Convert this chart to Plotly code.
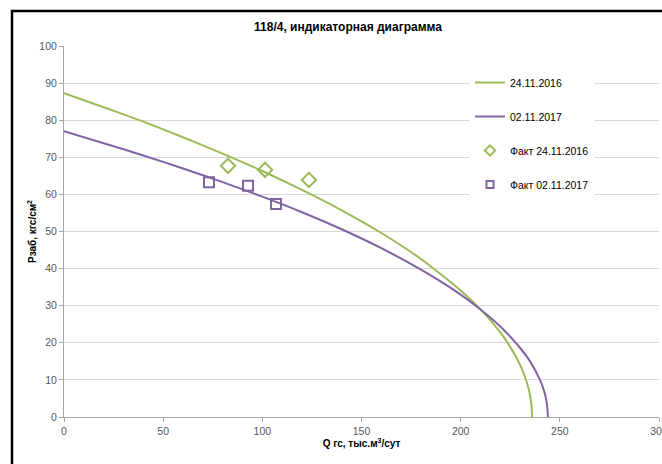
import plotly.graph_objects as go

# Indicator curves
q_2016 = [0, 20, 40, 60, 80, 100, 120, 140, 160, 180, 200, 210, 220, 225, 230, 233, 235, 235.8, 236]
p_2016 = [87.3, 83.5, 79.6, 75.4, 71.0, 66.3, 61.2, 55.7, 49.6, 42.6, 34.1, 29.0, 22.8, 18.9, 14.0, 9.9, 5.8, 2.5, 0]

q_2017 = [0, 20, 40, 60, 80, 100, 120, 140, 160, 180, 200, 210, 220, 230, 235, 240, 242, 243, 243.7, 244]
p_2017 = [77.0, 73.8, 70.5, 67.0, 63.3, 59.4, 55.2, 50.6, 45.5, 39.7, 33.0, 29.0, 24.4, 18.6, 15.0, 10.0, 7.1, 5.1, 2.5, 0]

# Measured points
fact_q_2016 = [82.7, 101.4, 123.5]
fact_p_2016 = [67.7, 66.6, 63.9]
fact_q_2017 = [73.1, 92.8, 106.9]
fact_p_2017 = [63.3, 62.3, 57.4]

names = ["24.11.2016", "02.11.2017", "Факт 24.11.2016", "Факт 02.11.2017"]
title_text = "118/4, индикаторная диаграмма"
x_title = "Q гс, тыс.м<sup>3</sup>/сут"
y_title = "Рзаб, кгс/см<sup>2</sup>"

GREEN = "#9bbb59"
PURPLE = "#8064a2"
FONT = "Liberation Sans, Arial, sans-serif"

fig = go.Figure()
fig.add_trace(go.Scatter(x=q_2016, y=p_2016, mode="lines", name=names[0], legendgroup="a",
                         line=dict(color=GREEN, width=2, shape="spline", smoothing=0.6)))
fig.add_trace(go.Scatter(x=q_2017, y=p_2017, mode="lines", name=names[1], legendgroup="b",
                         line=dict(color=PURPLE, width=2, shape="spline", smoothing=0.6)))
fig.add_trace(go.Scatter(x=fact_q_2016, y=fact_p_2016, mode="markers", name=names[2], legendgroup="c",
                         showlegend=False,
                         marker=dict(symbol="diamond-open", size=11, color=GREEN, line=dict(width=2, color=GREEN))))
fig.add_trace(go.Scatter(x=fact_q_2017, y=fact_p_2017, mode="markers", name=names[3], legendgroup="d",
                         showlegend=False,
                         marker=dict(symbol="square-open", size=10, color=PURPLE, line=dict(width=2, color=PURPLE))))
# legend entries with smaller symbols (as in the reference legend)
fig.add_trace(go.Scatter(x=[None], y=[None], mode="markers", name=names[2], legendgroup="c",
                         marker=dict(symbol="diamond-open", size=8, color=GREEN, line=dict(width=2, color=GREEN))))
fig.add_trace(go.Scatter(x=[None], y=[None], mode="markers", name=names[3], legendgroup="d",
                         marker=dict(symbol="square-open", size=7, color=PURPLE, line=dict(width=2, color=PURPLE))))

fig.update_layout(
    width=662, height=464,
    margin=dict(l=64, r=3, t=46, b=47, autoexpand=False),
    paper_bgcolor="white", plot_bgcolor="white",
    font=dict(family=FONT, size=11, color="#595959"),
    title=dict(text="<b>" + title_text + "</b>", x=(348 - 64) / 595, xref="paper", xanchor="center",
               y=1 - 27 / 464, yanchor="middle", font=dict(family=FONT, size=12, color="#000000")),
    showlegend=True,
    legend=dict(x=(470 - 64) / 595, y=(417 - 68) / 371, xanchor="left", yanchor="top",
                bgcolor="white", tracegroupgap=15, itemwidth=30,
                font=dict(family=FONT, size=10.5, color="#000000")),
    xaxis=dict(range=[0, 300], dtick=50, showgrid=False, zeroline=False, automargin=False,
               showline=True, linecolor="#a6a6a6", linewidth=1, ticklabeloverflow="allow",
               ticks="outside", ticklen=4, tickcolor="#a6a6a6",
               tickfont=dict(size=10.5, color="#595959"),
               title=dict(text="<b>" + x_title + "</b>", font=dict(size=10, color="#000000"), standoff=4)),
    yaxis=dict(range=[0, 100], dtick=10, showgrid=True, gridcolor="#d9d9d9", gridwidth=1, zeroline=False,
               automargin=False,
               showline=True, linecolor="#a6a6a6", linewidth=1,
               ticks="outside", ticklen=4, tickcolor="#a6a6a6",
               tickfont=dict(size=10.5, color="#595959"),
               title=dict(text="<b>" + y_title + "</b>", font=dict(size=10, color="#000000"), standoff=0)),
    shapes=[dict(type="rect", xref="paper", yref="paper",
                 x0=(12 - 64) / 595, x1=(700 - 64) / 595,
                 y0=(417 - 500) / 371, y1=(417 - 11) / 371,
                 line=dict(color="black", width=2.5), fillcolor="rgba(0,0,0,0)", layer="above")],
)

fig.write_html("out.html", config={"displayModeBar": False},
               post_script="document.body.style.margin='0';document.body.style.overflow='hidden';")
